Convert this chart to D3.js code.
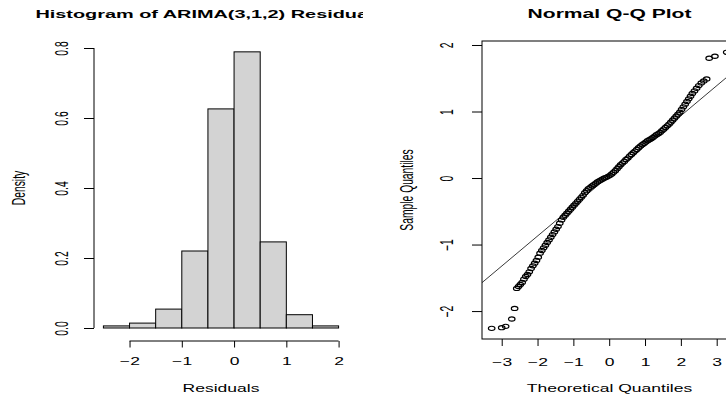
<!DOCTYPE html>
<html>
<head>
<meta charset="utf-8">
<script src="https://cdn.jsdelivr.net/npm/d3@7"></script>
<style>
  html, body { margin: 0; padding: 0; background: #fff; }
  svg { display: block; font-family: "Liberation Sans", Arial, sans-serif; }
</style>
</head>
<body>
<div id="chart"></div>
<script>
// Histogram of residuals (bin edges + density per bin)
const binEdges = [-2.5, -2, -1.5, -1, -0.5, 0, 0.5, 1, 1.5, 2];
const densities = [0.006, 0.014, 0.054, 0.22, 0.626, 0.789, 0.246, 0.038, 0.006];
const histXTicks = [-2, -1, 0, 1, 2];
const histYTicks = [0, 0.2, 0.4, 0.6, 0.8];

// Q-Q plot points (theoretical, sample)
const qqTheo = [
  -3.28, -3.00, -2.89, -2.72, -2.64, -2.58, -2.53, -2.48, -2.43, -2.38,
  -2.33, -2.28, -2.23, -2.18, -2.13, -2.08, -2.03, -1.98, -1.93, -1.88,
  -1.83, -1.78, -1.73, -1.68, -1.63, -1.58, -1.53, -1.48, -1.43, -1.38,
  -1.33, -1.28, -1.23, -1.18, -1.13, -1.08, -1.03, -0.98, -0.93, -0.88,
  -0.83, -0.78, -0.73, -0.68, -0.63, -0.58, -0.53, -0.48, -0.43, -0.38,
  -0.33, -0.28, -0.23, -0.18, -0.13, -0.08, -0.03, 0.02, 0.07, 0.12,
  0.17, 0.22, 0.27, 0.32, 0.37, 0.42, 0.47, 0.52, 0.57, 0.62,
  0.67, 0.72, 0.77, 0.82, 0.87, 0.92, 0.97, 1.02, 1.07, 1.12,
  1.17, 1.22, 1.27, 1.32, 1.37, 1.42, 1.47, 1.52, 1.57, 1.62,
  1.67, 1.72, 1.77, 1.82, 1.87, 1.92, 1.97, 2.02, 2.07, 2.12,
  2.17, 2.22, 2.27, 2.32, 2.38, 2.44, 2.50, 2.57, 2.64, 2.72,
  2.79, 2.95, 3.28
];
const qqSample = [
  -2.26, -2.25, -2.23, -2.12, -1.96, -1.66, -1.63, -1.60, -1.57, -1.52,
  -1.48, -1.45, -1.41, -1.36, -1.32, -1.28, -1.24, -1.19, -1.13, -1.09,
  -1.05, -1.01, -0.97, -0.93, -0.89, -0.85, -0.81, -0.77, -0.73, -0.68,
  -0.63, -0.59, -0.56, -0.53, -0.50, -0.47, -0.44, -0.41, -0.38, -0.35,
  -0.32, -0.29, -0.26, -0.22, -0.19, -0.16, -0.14, -0.12, -0.10, -0.08,
  -0.06, -0.045, -0.03, -0.015, 0.00, 0.01, 0.025, 0.04, 0.06, 0.085,
  0.11, 0.14, 0.17, 0.20, 0.225, 0.25, 0.28, 0.30, 0.33, 0.355,
  0.38, 0.405, 0.43, 0.455, 0.48, 0.50, 0.52, 0.54, 0.56, 0.575,
  0.59, 0.61, 0.63, 0.65, 0.665, 0.685, 0.71, 0.735, 0.76, 0.785,
  0.81, 0.84, 0.87, 0.90, 0.93, 0.96, 0.99, 1.03, 1.07, 1.11,
  1.15, 1.19, 1.23, 1.27, 1.31, 1.35, 1.39, 1.43, 1.46, 1.49,
  1.80, 1.83, 1.89
];
const qqXTicks = [-3, -2, -1, 0, 1, 2, 3];
const qqYTicks = [-2, -1, 0, 1, 2];
const qqLineIntercept = 0.032;
const qqLineSlope = 0.452;

const width = 726, height = 398;
const SX = 1.7;          // the picture is stretched horizontally
const fontBase = 10.3;

const svg = d3.select('#chart').append('svg')
  .attr('width', width)
  .attr('height', height);

svg.append('defs').append('clipPath').attr('id', 'leftFig')
  .append('rect').attr('x', 0).attr('y', 0).attr('width', 363).attr('height', height);

// stretched text helper
function label(g, text, x, y, opts = {}) {
  const rot = opts.rotate ? ' rotate(-90)' : '';
  return g.append('text')
    .attr('transform', `translate(${x},${y}) scale(${SX},1)${rot}`)
    .attr('text-anchor', 'middle')
    .attr('dy', '0.35em')
    .attr('font-size', opts.size || fontBase)
    .attr('font-weight', opts.bold ? 'bold' : null)
    .attr('fill', '#000')
    .text(text);
}

// ---------- Histogram ----------
const hx = d3.scaleLinear().domain([-2.68, 2.18]).range([94, 348]);
const hy = d3.scaleLinear().domain([0, 0.8]).range([328, 48]);

const left = svg.append('g');

left.selectAll('rect.bar')
  .data(densities)
  .enter()
  .append('rect')
  .attr('class', 'bar')
  .attr('x', (d, i) => hx(binEdges[i]))
  .attr('width', (d, i) => hx(binEdges[i + 1]) - hx(binEdges[i]))
  .attr('y', (d) => hy(d))
  .attr('height', (d) => hy(0) - hy(d))
  .attr('fill', '#d3d3d3')
  .attr('stroke', '#000')
  .attr('stroke-width', 1);

// x axis
const hxAxis = left.append('g')
  .attr('transform', 'translate(0,341)')
  .call(d3.axisBottom(hx).tickValues(histXTicks).tickSize(6.5).tickFormat(d3.format('d')));
hxAxis.select('.domain').remove();
hxAxis.append('line')
  .attr('x1', hx(histXTicks[0])).attr('x2', hx(histXTicks[histXTicks.length - 1]))
  .attr('stroke', '#000');
hxAxis.selectAll('text')
  .attr('y', null).attr('dy', '0.35em')
  .attr('transform', `translate(0,20) scale(${SX},1)`)
  .attr('font-size', fontBase).attr('font-family', null).attr('fill', '#000');

// y axis
const hyAxis = left.append('g')
  .attr('transform', 'translate(94,0)')
  .call(d3.axisLeft(hy).tickValues(histYTicks).tickSize(10).tickFormat(d3.format('.1f')));
hyAxis.select('.domain').remove();
hyAxis.append('line')
  .attr('y1', hy(histYTicks[0])).attr('y2', hy(histYTicks[histYTicks.length - 1]))
  .attr('stroke', '#000');
hyAxis.selectAll('text')
  .attr('x', null).attr('dy', '0.35em')
  .attr('text-anchor', 'middle')
  .attr('transform', `translate(-32,0) scale(${SX},1) rotate(-90)`)
  .attr('font-size', fontBase).attr('font-family', null).attr('fill', '#000');

left.selectAll('.tick line').attr('stroke', '#000');

const leftTitle = svg.append('g').attr('clip-path', 'url(#leftFig)');
label(leftTitle, 'Histogram of ARIMA(3,1,2) Residuals', 210, 14, { bold: true, size: 11.7 });
label(left, 'Residuals', 221, 388);
label(left, 'Density', 19, 188, { rotate: true });

// ---------- Normal Q-Q plot ----------
const qx = d3.scaleLinear().domain([-3.55, 3.55]).range([482, 736.4]);
const qy = d3.scaleLinear().domain([-2.42, 2.06]).range([339, 41]);

const right = svg.append('g');

right.append('clipPath').attr('id', 'qqClip')
  .append('rect')
  .attr('x', qx(-3.55)).attr('y', qy(2.06))
  .attr('width', qx(3.55) - qx(-3.55)).attr('height', qy(-2.42) - qy(2.06));

const plot = right.append('g').attr('clip-path', 'url(#qqClip)');

plot.append('line')
  .attr('x1', qx(-3.55)).attr('y1', qy(qqLineIntercept + qqLineSlope * -3.55))
  .attr('x2', qx(3.55)).attr('y2', qy(qqLineIntercept + qqLineSlope * 3.55))
  .attr('stroke', '#222')
  .attr('stroke-width', 0.9);

plot.selectAll('ellipse')
  .data(qqTheo)
  .enter()
  .append('ellipse')
  .attr('cx', (d) => qx(d))
  .attr('cy', (d, i) => qy(qqSample[i]))
  .attr('rx', 3.3)
  .attr('ry', 2.1)
  .attr('fill', 'none')
  .attr('stroke', '#000')
  .attr('stroke-width', 1.15);

// box
right.append('rect')
  .attr('x', qx(-3.55)).attr('y', qy(2.06))
  .attr('width', qx(3.55) - qx(-3.55)).attr('height', qy(-2.42) - qy(2.06))
  .attr('fill', 'none')
  .attr('stroke', '#000');

const qxAxis = right.append('g')
  .attr('transform', `translate(0,${qy(-2.42)})`)
  .call(d3.axisBottom(qx).tickValues(qqXTicks).tickSize(7).tickFormat(d3.format('d')));
qxAxis.select('.domain').remove();
qxAxis.selectAll('text')
  .attr('y', null).attr('dy', '0.35em')
  .attr('transform', `translate(0,23) scale(${SX},1)`)
  .attr('font-size', fontBase).attr('font-family', null).attr('fill', '#000');

const qyAxis = right.append('g')
  .attr('transform', `translate(${qx(-3.55)},0)`)
  .call(d3.axisLeft(qy).tickValues(qqYTicks).tickSize(10).tickFormat(d3.format('d')));
qyAxis.select('.domain').remove();
qyAxis.selectAll('text')
  .attr('x', null).attr('dy', '0.35em')
  .attr('text-anchor', 'middle')
  .attr('transform', `translate(-35,0) scale(${SX},1) rotate(-90)`)
  .attr('font-size', fontBase).attr('font-family', null).attr('fill', '#000');

right.selectAll('.tick line').attr('stroke', '#000');

label(right, 'Normal Q-Q Plot', 609.5, 14, { bold: true, size: 12.4 });
label(right, 'Theoretical Quantiles', 609.5, 388);
label(right, 'Sample Quantiles', 407, 190, { rotate: true });
</script>
</body>
</html>
